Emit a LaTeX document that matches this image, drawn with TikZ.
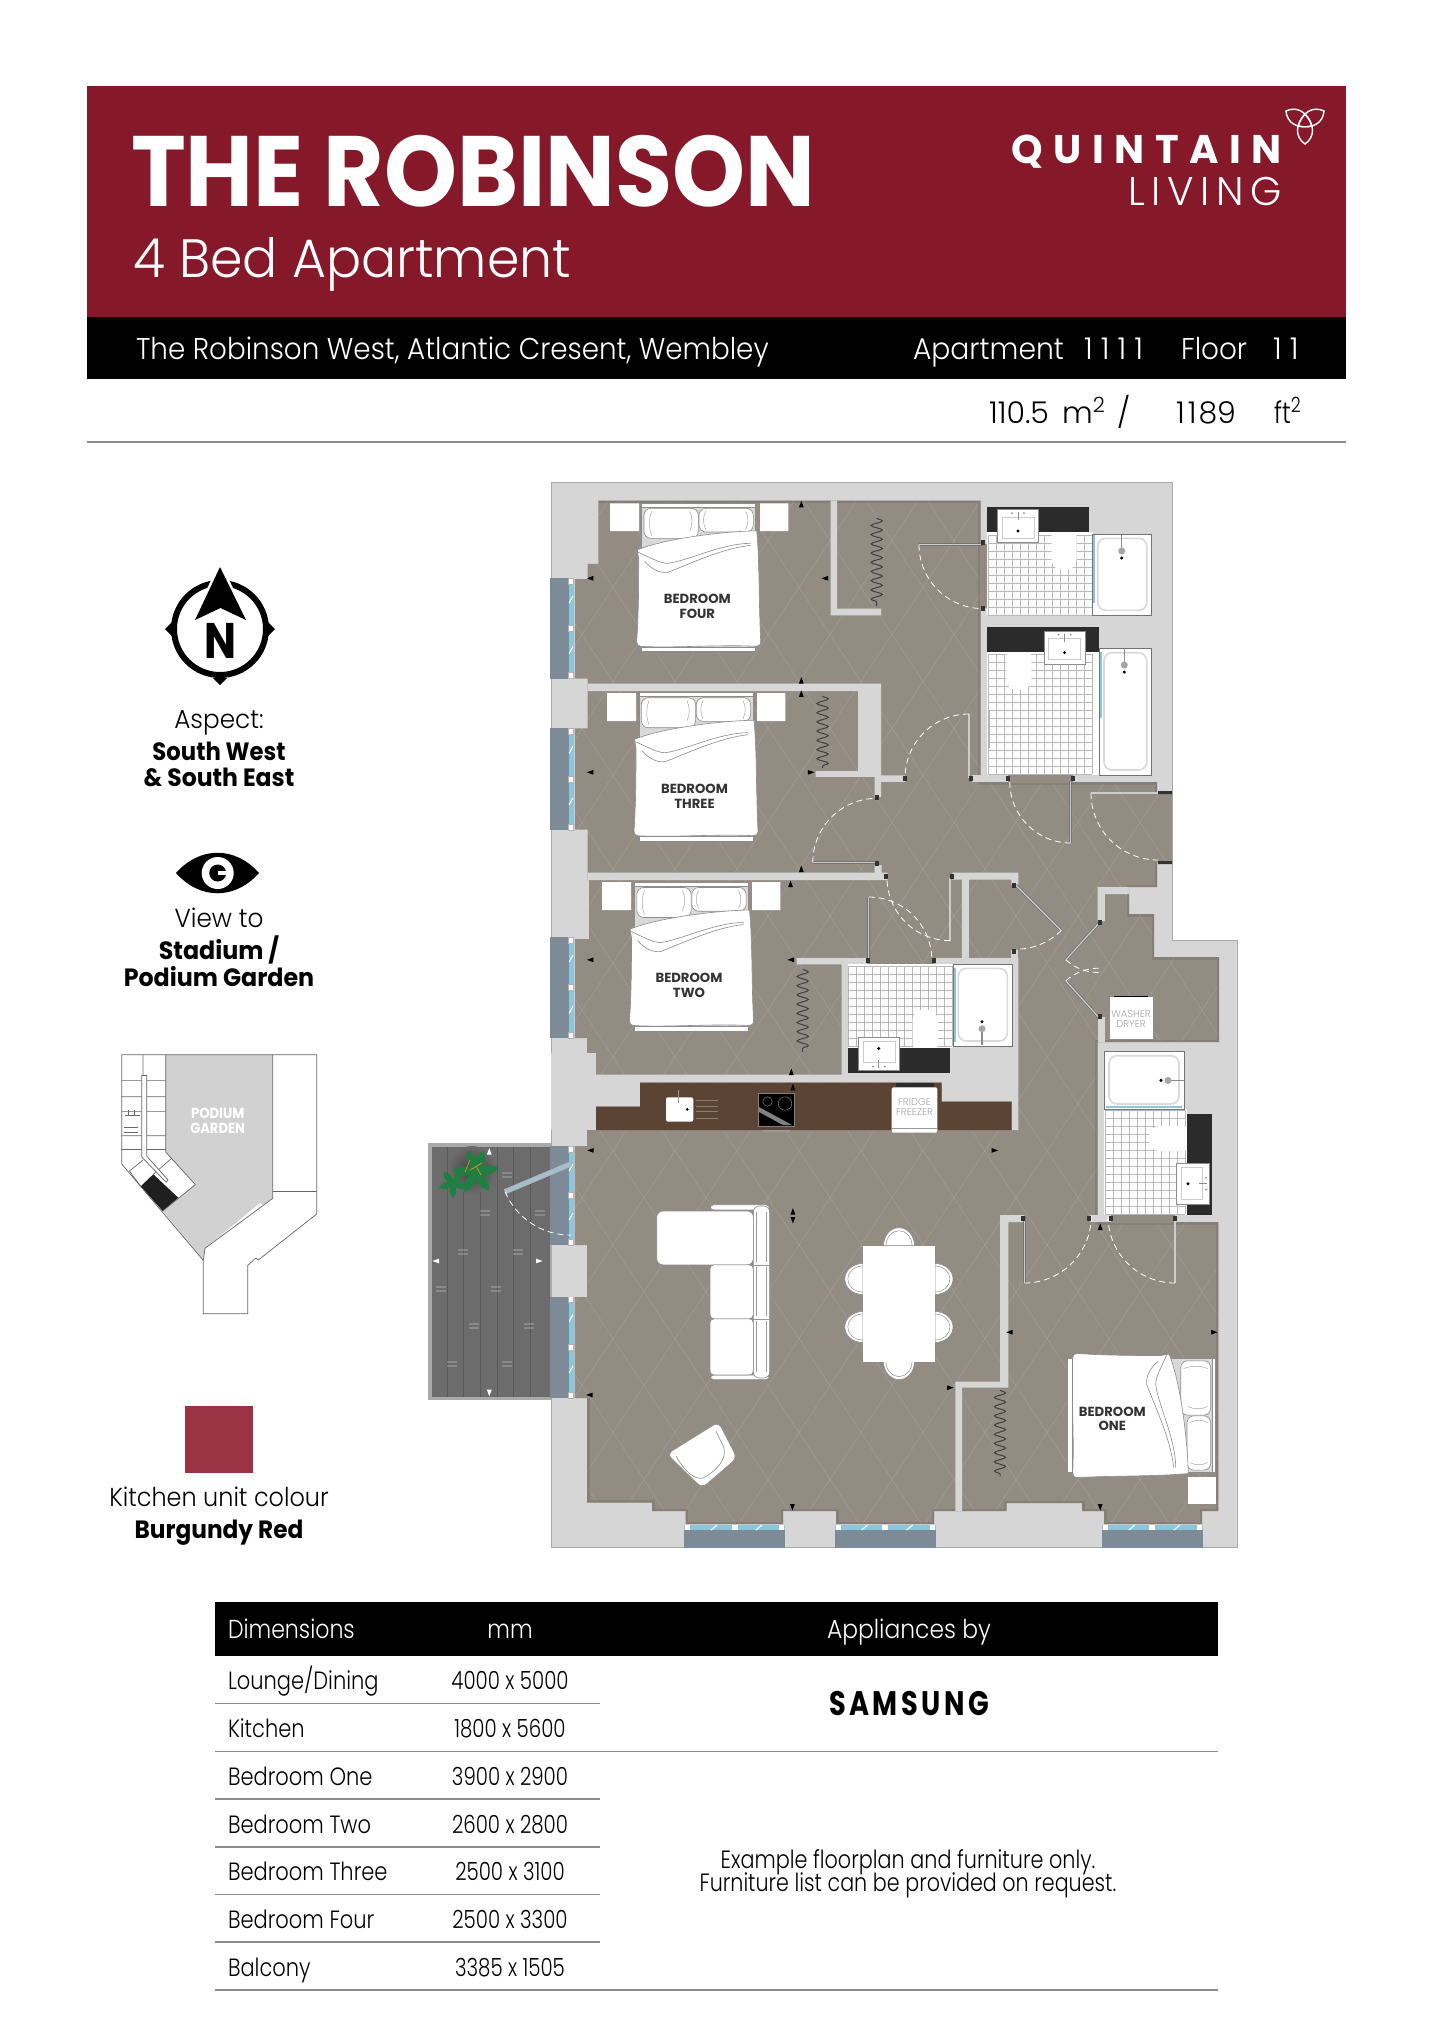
\documentclass[tikz,border=0pt]{standalone}
\usepackage{fontspec}
\setmainfont{Poppins}[UprightFont=* Light,BoldFont=* Bold]
\usetikzlibrary{decorations.pathmorphing}

\definecolor{bannerred}{HTML}{85192A}
\definecolor{swatchred}{HTML}{9C3345}
\definecolor{wallgrey}{HTML}{D6D6D7}
\definecolor{walledge}{HTML}{A9A9A9}
\definecolor{floortaupe}{HTML}{938C83}
\definecolor{floordark}{HTML}{6F6962}
\definecolor{counterblack}{HTML}{2B2B2C}
\definecolor{worktop}{HTML}{5C4434}
\definecolor{deckgrey}{HTML}{6C6C6C}
\definecolor{slate}{HTML}{7D8A97}
\definecolor{glassblue}{HTML}{8CC6DC}
\definecolor{glassdoor}{HTML}{A3BFCB}
\definecolor{plantgreen}{HTML}{1F7F42}

\tikzset{
    txt/.style={inner sep=0pt, outer sep=0pt, anchor=base},
    txtleft/.style={inner sep=0pt, outer sep=0pt, anchor=base west},
    txtright/.style={inner sep=0pt, outer sep=0pt, anchor=base east},
    wall/.style={fill=wallgrey, draw=walledge, line width=0.3pt},
    furniture/.style={fill=white, draw=black!45, line width=0.3pt},
    tile/.style={draw=black!28, line width=0.2pt},
    doorleaf/.style={draw=black!55, line width=1.4pt},
    doorcore/.style={draw=black!20, line width=0.6pt},
    doorswing/.style={draw=white, line width=0.4pt, dash pattern=on 3pt off 2pt},
    rule/.style={draw=black!45, line width=0.6pt},
    bedlabel/.style={inner sep=0pt, align=center, text=black!80, font=\bfseries\fontsize{6.6}{7.3}\selectfont},
    applabel/.style={inner sep=0pt, align=center, text=black!35, font=\fontsize{5}{5.6}\selectfont},
}

\newcommand{\squeeze}[2]{\scalebox{#1}[1]{#2}}
\newcommand{\swingdoor}[4]{%
    \draw[doorleaf] (#1) -- ++(#2:#4);
    \draw[doorcore] (#1) -- ++(#2:#4);
    \draw[doorswing] (#1) ++(#2:#4) arc (#2:#3:#4);
}
\newcommand{\jamb}[2]{\fill[black!80] (#1-2,#2-2.5) rectangle (#1+2,#2+2.5);}
\newcommand{\hanger}[3]{%
    \draw[black!75, line width=0.5pt, decorate, decoration={snake, amplitude=2.8pt, segment length=4.6pt}] (#1,#2) -- (#1,#3);
}
\newcommand{\tilefloor}[4]{%
    \foreach \i in {0,...,#3}
        \draw[tile] (#1+\i*8,#2) -- ++(0,#4*8);
    \foreach \j in {0,...,#4}
        \draw[tile] (#1,#2+\j*8) -- ++(#3*8,0);
}
\newcommand{\windowwest}[2]{%
    \fill[slate] (549.5,#1) rectangle (568.5,#2);
    \fill[glassblue] (568.5,#1) rectangle (573.5,#2);
    \fill[white, draw=black!30, line width=0.2pt] (568.5,#1) rectangle (573.5,#1+6);
    \fill[white, draw=black!30, line width=0.2pt] (568.5,#2-6) rectangle (573.5,#2);
    \fill[white, draw=black!30, line width=0.2pt] (568.5,{(#1+#2)/2-3}) rectangle (573.5,{(#1+#2)/2+3});
    \draw[white, line width=0.5pt] (569,{#1+25}) -- (573,{#1+18}) (569,{#2-25}) -- (573,{#2-32});
}
\newcommand{\windowsouth}[2]{%
    \fill[slate] (#1,1530) rectangle (#2,1548);
    \fill[glassblue] (#1,1525) rectangle (#2,1530);
    \fill[white] (#1+1,1525) rectangle (#1+6,1530);
    \fill[white] (#2-6,1525) rectangle (#2-1,1530);
    \fill[white] ({(#1+#2)/2-3},1525) rectangle ({(#1+#2)/2+3},1530);
    \draw[white, line width=0.5pt] (#1+27,1530) -- (#1+33,1525) (#1+72,1530) -- (#1+78,1525);
}
\newcommand{\bathtub}[4]{%
    \fill[white, draw=black!55, line width=0.4pt] (#1,#2) rectangle (#3,#4);
    \draw[fill=white, draw=black!15, line width=0.8pt, rounded corners=4pt] (#1+5,#2+4) rectangle (#3-5,#4-5);
}
\newcommand{\tubtap}[3]{%
    \begin{scope}[shift={(#1,#2)}, rotate=#3]
        \draw[black!45, line width=0.6pt] (0,0) -- (0,-16);
        \fill[black!35] (0,0) circle (3.5);
        \fill[black] (0,7) circle (1.7);
    \end{scope}
}
\newcommand{\basin}[3]{%
    \begin{scope}[shift={(#1,#2)}, rotate=#3]
        \draw[furniture] (-20.5,-16.5) rectangle (20.5,16.5);
        \draw[black!20, line width=0.3pt] (-16,-9) rectangle (16,12);
        \draw[black!45, line width=0.5pt] (0,-14) -- (0,-6);
        \fill[black!45] (-6,-13) circle (1) (6,-13) circle (1);
        \fill[black] (0,5) circle (1.6);
    \end{scope}
}
\newcommand{\toilet}[3]{%
    \begin{scope}[shift={(#1,#2)}, rotate=#3]
        \fill[white, rounded corners=5pt] (-12.5,-6) -- (-12.5,38) -- (12.5,38) -- (12.5,-6) -- cycle;
    \end{scope}
}
\newcommand{\dimtick}[4][black]{\fill[#1, shift={(#2,#3)}, rotate=#4] (0,-3.5) -- (2.4,3) -- (-2.4,3) -- cycle;}
\newcommand{\diningchair}[3]{%
    \begin{scope}[shift={(#1,#2)}, rotate=#3]
        \draw[furniture] (-15.5,0) arc (180:360:15.5 and 18) -- cycle;
        \draw[black!45, line width=0.25pt] (-13,0) arc (180:360:13 and 15);
    \end{scope}
}
\newcommand{\doublebed}[3]{%
    \begin{scope}[shift={(#1,#2)}, rotate=#3]
        \draw[fill=black!15, draw=black!45, line width=0.3pt] (0,0) rectangle (114,148);
        \draw[furniture] (0,0) rectangle (114,3.5);
        \draw[furniture, rounded corners=3.5pt] (2.3,5) rectangle (56.6,35);
        \draw[furniture, rounded corners=3.5pt] (57.3,5) rectangle (111.6,28.7);
        \draw[black!35, line width=0.25pt] (10,8) .. controls (7,16) and (7,24) .. (10,32) (48,8) .. controls (51,14) and (51,22) .. (48,28) (64,8) .. controls (61,14) and (61,20) .. (64,26) (104,8) .. controls (107,14) and (107,20) .. (104,26);
        \draw[furniture, line join=round] (-4.4,46.7) .. controls (20,36) and (80,28) .. (115,27.5) .. controls (118,60) and (117,100) .. (119,138) .. controls (119,142) and (117,143) .. (114,143) .. controls (80,141) and (30,145) .. (-1,143) .. controls (-4,143) and (-5,141) .. (-5,138) .. controls (-3,110) and (-3,80) .. (-3,55) -- cycle;
        \draw[black!45, line width=0.3pt] (-3.5,49) .. controls (8,54) and (18,60) .. (26,60) .. controls (45,58) and (80,40) .. (109,40);
        \draw[black!45, line width=0.3pt] (3,58) .. controls (10,66) and (18,70) .. (26,69) .. controls (45,62) and (80,45) .. (109,42);
        \draw[furniture] (0,143.7) rectangle (114,148.4);
    \end{scope}
}

\begin{document}
\begin{tikzpicture}[x=0.5pt, y=-0.5pt]
    \useasboundingbox (0,0) rectangle (1432,2025);

    \fill[bannerred] (87,86) rectangle (1346,317);
    \fill[black] (87,317) rectangle (1346,379);
    \draw[rule] (87,442) -- (1346,442);
    \node[txtleft, text=white, font=\bfseries\fontsize{50}{50}\selectfont] (title) at (131,206) {\squeeze{0.928}{THE ROBINSON}};
    \node[txtleft, text=white, font=\fontsize{27}{27}\selectfont] (subtitle) at (133,277) {\squeeze{0.965}{4 Bed Apartment}};
    \node[txtright, text=white, font=\bfseries\fontsize{20}{20}\selectfont] (quintain) at (1282,163) {Q\hspace{5.3pt}U\hspace{5.3pt}I\hspace{5.3pt}N\hspace{5.3pt}T\hspace{5.3pt}A\hspace{5.3pt}I\hspace{5.3pt}N};
    \node[txtright, text=white, font=\fontsize{20}{20}\selectfont] (living) at (1282,205) {L\,I\,V\,I\,N\,G};
    \foreach \a in {60,180,300}
        \draw[white, line width=0.7pt, shift={(1305,122)}, rotate=\a] (0,8) .. controls (10,-3) and (10,-15) .. (0,-22) .. controls (-10,-15) and (-10,-3) .. (0,8);
    \node[txtleft, text=white, font=\fontsize{15}{15}\selectfont] (address) at (136,359) {\squeeze{0.926}{The Robinson West, Atlantic Cresent, Wembley}};
    \node[txtleft, text=white, font=\fontsize{15}{15}\selectfont] (aptlabel) at (913,359) {\squeeze{0.94}{Apartment}};
    \node[txtleft, text=white, font=\fontsize{15}{15}\selectfont] (aptnumber) at (1084,359) {1\hspace{4pt}1\hspace{4pt}1\hspace{4pt}1};
    \node[txtleft, text=white, font=\fontsize{15}{15}\selectfont] (floorlabel) at (1181,359) {\squeeze{0.93}{Floor}};
    \node[txtleft, text=white, font=\fontsize{15}{15}\selectfont] (floornumber) at (1273,359) {1\hspace{4pt}1};
    \node[txtleft, font=\fontsize{15}{15}\selectfont] (areametric) at (989,423) {110.5\, m\textsuperscript{2} \hspace{1.5pt}/};
    \node[txtleft, font=\fontsize{15}{15}\selectfont] (areafeet) at (1176,423) {1\hspace{1.5pt}1\hspace{1pt}89};
    \node[txtleft, font=\fontsize{15}{15}\selectfont] (unitfeet) at (1274,423) {\squeeze{0.82}{ft\textsuperscript{2}}};

    \draw[black, line width=3pt] (220,629) circle (46);
    \fill[black] (165,629) -- (172,622) -- (172,636) -- cycle (275,629) -- (268,622) -- (268,636) -- cycle (220,685) -- (213,678) -- (227,678) -- cycle;
    \draw[white, line width=2.5pt, fill=black, line join=miter] (220,567) -- (246,620) -- (220.5,608) -- (195,620) -- cycle;
    \fill[black] (220,567) -- (246,620) -- (220.5,608) -- (195,620) -- cycle;
    \node[txt, font=\bfseries\fontsize{25}{25}\selectfont] (north) at (220.5,658) {\squeeze{0.85}{N}};
    \node[txt, font=\fontsize{13}{13}\selectfont] (aspect) at (219,728) {\squeeze{0.95}{Aspect:}};
    \node[txt, font=\bfseries\fontsize{12.5}{12.5}\selectfont] (aspectone) at (219,760) {\squeeze{0.91}{South West}};
    \node[txt, font=\bfseries\fontsize{12.5}{12.5}\selectfont] (aspecttwo) at (219,786) {\squeeze{0.94}{\&{} South East}};
    \fill[black] (176,873) .. controls (200,846) and (235,846) .. (259,873) .. controls (235,900) and (200,900) .. (176,873) -- cycle;
    \fill[white] (217.7,873) circle (16);
    \fill[black] (217.7,873) circle (8.5);
    \fill[white] (218,871) rectangle (227,875);
    \node[txt, font=\fontsize{13}{13}\selectfont] (viewto) at (219,927) {\squeeze{0.95}{View to}};
    \node[txt, font=\bfseries\fontsize{12.5}{12.5}\selectfont] (viewone) at (219,959) {\squeeze{0.95}{Stadium /}};
    \node[txt, font=\bfseries\fontsize{12.5}{12.5}\selectfont] (viewtwo) at (219,986) {\squeeze{0.95}{Podium Garden}};

    \fill[black!18] (165.7,1054.8) -- (272.7,1054.8) -- (272.7,1198.4) -- (263,1205) -- (260.5,1202.5) -- (205,1248.3) -- (203.3,1260.4) -- (162.7,1211) -- (195.3,1184.6) -- (165.7,1152) -- cycle;
    \fill[black!88] (153.3,1174.3) -- (178.3,1197.7) -- (162.7,1211) -- (140.7,1186.3) -- cycle;
    \draw[black!60, line width=0.35pt, line join=round] (121.7,1054.8) -- (316.7,1054.8) -- (316.7,1214) -- (258.3,1260) -- (255.8,1258) -- (247.7,1265.5) -- (247.7,1313.8) -- (203.3,1313.8) -- (203.3,1260.4) -- (121.7,1164) -- cycle;
    \draw[black!60, line width=0.35pt] (165.7,1054.8) -- (165.7,1152) -- (195.3,1184.6) -- (162.7,1211) (272.7,1054.8) -- (272.7,1198.4) -- (205,1248.3) -- (203.3,1260.4) (272.7,1191.5) -- (316.7,1191.5);
    \draw[black!60, line width=0.35pt] (121.7,1080.6) -- (165.7,1080.6) (121.7,1096.8) -- (165.7,1096.8) (121.7,1111.6) -- (165.7,1111.6) (121.7,1135.7) -- (165.7,1135.7) (121.7,1149.5) -- (165.7,1149.5) (143,1054.8) -- (143,1075) (129.5,1171) -- (143,1160) (153.3,1174.3) -- (172,1158) (140.7,1186.3) -- (129.5,1171);
    \draw[black!60, line width=0.35pt, fill=white] (141.7,1075.5) -- (146.7,1075.5) -- (146.7,1156) -- (168,1180) -- (166,1182) -- (141.7,1157) -- cycle;
    \draw[black!60, line width=0.3pt] (125,1115) -- (140,1115) (128,1110) -- (128,1115) (134,1110) -- (134,1115) (124,1127) -- (138,1127) (124,1132) -- (138,1132);
    \node[txt, text=white, font=\bfseries\fontsize{7.3}{7.3}\selectfont] (podiumone) at (217.7,1118) {\squeeze{0.9}{PODIUM}};
    \node[txt, text=white, font=\bfseries\fontsize{7.3}{7.3}\selectfont] (podiumtwo) at (217.7,1133) {\squeeze{0.9}{GARDEN}};

    \fill[swatchred] (185,1406) rectangle (253,1473);
    \node[txt, font=\fontsize{13}{13}\selectfont] (kitchencolour) at (219,1506) {\squeeze{0.92}{Kitchen unit colour}};
    \node[txt, font=\bfseries\fontsize{12.5}{12.5}\selectfont] (burgundy) at (219,1538) {\squeeze{0.93}{Burgundy Red}};

    % shell and floor
    \draw[wall, line join=round] (551,482) -- (1172,482) -- (1172,940) -- (1237,940) -- (1237,1547) -- (551,1547) -- cycle;
    \begin{scope}
        \clip (598.4,500.6) -- (980.7,500.6) -- (980.7,782) -- (1157,782) -- (1157,793) -- (1172,793) -- (1172,862) -- (1157,862) -- (1157,887) -- (1129,887) -- (1129,914) -- (1154,914) -- (1154,957) -- (1219,957) -- (1219,1042) -- (1097.5,1042) -- (1097.5,1222) -- (1218.4,1222) -- (1218.4,1511) -- (1202,1511) -- (1202,1524) -- (1104,1524) -- (1104,1511) -- (1082,1511) -- (1082,1503) -- (1006.5,1503) -- (1006.5,1511) -- (934,1511) -- (934,1524) -- (836,1524) -- (836,1511) -- (783,1511) -- (783,1524) -- (685.6,1524) -- (685.6,1511) -- (652,1511) -- (652,1502.5) -- (587,1502.5) -- (587,1398) -- (574.6,1398) -- (574.6,1296.6) -- (587,1296.6) -- (587,1245) -- (574.6,1245) -- (574.6,1146) -- (587,1146) -- (587,1130) -- (596,1130) -- (596,1053.6) -- (587,1053.6) -- (587,1038) -- (574.8,1038) -- (574.8,939) -- (589,939) -- (589,880) -- (587.6,880) -- (587.6,829.7) -- (574.8,829.7) -- (574.8,728.3) -- (587.6,728.3) -- (587.6,678.6) -- (574.8,678.6) -- (574.8,579) -- (587.6,579) -- (587.6,563.8) -- (598.4,563.8) -- cycle;
        \fill[floortaupe] (560,490) rectangle (1230,1530);
        \foreach \i in {0,...,30} {
            \draw[white, opacity=0.13, line width=0.3pt] (560+\i*62,480) -- (560+\i*62-700,1540);
            \draw[white, opacity=0.13, line width=0.3pt] (560-700+\i*62,480) -- (560-700+\i*62+700,1540);
        }
        \draw[floordark, opacity=0.35, line width=2.5pt] (598.4,500.6) -- (980.7,500.6) -- (980.7,782) -- (1157,782) -- (1157,793) (1157,862) -- (1157,887) -- (1129,887) -- (1129,914) -- (1154,914) -- (1154,957) -- (1219,957) -- (1219,1042) -- (1097.5,1042) -- (1097.5,1222) -- (1218.4,1222) -- (1218.4,1511) -- (1202,1511) -- (1202,1524) -- (1104,1524) -- (1104,1511) -- (1082,1511) -- (1082,1503) -- (1006.5,1503) -- (1006.5,1511) -- (934,1511) -- (934,1524) -- (836,1524) -- (836,1511) -- (783,1511) -- (783,1524) -- (685.6,1524) -- (685.6,1511) -- (652,1511) -- (652,1502.5) -- (587,1502.5) -- (587,1398);
    \end{scope}
    \fill[floortaupe] (980,544) rectangle (988,608) (1008,774) rectangle (1073,783) (1111,1214) rectangle (1175,1223);

    % inner walls
    \fill[wallgrey] (587.6,683.5) -- (881,683.5) -- (881,775.4) -- (905,775.4) -- (905,781.9) -- (881,781.9) -- (881,797.2) -- (874.5,797.2) -- (874.5,776.9) -- (815.5,776.9) -- (815.5,771.2) -- (858,771.2) -- (858,691.2) -- (587.6,691.2) -- cycle;
    \fill[wallgrey] (830.6,500.6) -- (837.2,500.6) -- (837.2,608.5) -- (881,608.5) -- (881,615.4) -- (830.6,615.4) -- cycle;
    \fill[wallgrey] (587.6,872.6) -- (874.5,872.6) -- (874.5,865) -- (881.6,865) -- (881.6,872.6) -- (887.7,872.6) -- (887.7,880.2) -- (587.6,880.2) -- cycle;
    \fill[wallgrey] (796.6,958) -- (867,958) -- (867,964.4) -- (935,964.4) -- (935,958) -- (1018.4,958) -- (1018.4,1130) -- (1011.7,1130) -- (1011.7,1101.7) -- (941.7,1101.7) -- (941.7,1082.7) -- (640,1082.7) -- (640,1106.7) -- (596,1106.7) -- (596,1074.6) -- (841.7,1074.6) -- (841.7,964.4) -- (796.6,964.4) -- cycle;
    \fill[wallgrey] (952.3,872.6) -- (1018.4,872.6) -- (1018.4,885.2) -- (1011.3,885.2) -- (1011.3,879.5) -- (968.9,879.5) -- (968.9,958) -- (961.8,958) -- (961.8,879.5) -- (952.3,879.5) -- cycle;
    \fill[wallgrey] (1011.3,950.3) rectangle (1018.4,958);
    \fill[wallgrey] (1000,1215) -- (1024.3,1215) -- (1024.3,1222) -- (1008.3,1222) -- (1008.3,1387.7) -- (962,1387.7) -- (962,1511) -- (955.4,1511) -- (955.4,1381.6) -- (1000,1381.6) -- cycle;
    \fill[wallgrey] (1089.6,1215) rectangle (1098,1222);
    \fill[wallgrey] (1097.7,887) -- (1129,887) -- (1129,894) -- (1104.8,894) -- (1104.8,921) -- (1097.7,921) -- cycle;
    \fill[wallgrey] (1097.7,1017) rectangle (1104.8,1042);
    \fill[wallgrey] (971.7,775) rectangle (1008.3,782);
    \fill[wallgrey] (551,1053) rectangle (596,1130);
    \fill[wallgrey] (587,1075) rectangle (596,1107);

    % balcony
    \fill[walledge] (427.7,1143.3) rectangle (551,1400);
    \fill[deckgrey] (432.3,1147.3) rectangle (549.5,1397.3);
    \foreach \x in {447,463,480,497,513,530}
        \draw[black!65, line width=0.15pt] (\x,1147.3) -- (\x,1397.3);
    \foreach \x/\y in {507/1175,485/1213,540/1213,463/1252,518/1252,441/1289,496/1289,474/1326,529/1326,452/1364,507/1364}
        \draw[white, opacity=0.2, line width=0.7pt] (\x,\y-2) ++(-5,0) -- ++(10,0) (\x,\y+2) ++(-5,0) -- ++(10,0);
    \shade[inner color=black!75, outer color=deckgrey, shading=radial] (472,1170) circle (24);
    \foreach \a in {20,85,150,215,280,340}
        \fill[plantgreen, shift={(476,1172)}, rotate=\a] (0,0) .. controls (7,-7) and (5,-17) .. (0,-23) .. controls (-5,-17) and (-7,-7) .. (0,0);
    \foreach \a in {40,110,180,250,320}
        \fill[plantgreen, shift={(453,1183)}, rotate=\a] (0,0) .. controls (5,-5) and (4,-11) .. (0,-15) .. controls (-4,-11) and (-5,-5) .. (0,0);
    \draw[orange!60!brown, line width=0.4pt] (470,1170) -- (482,1163) (476,1166) -- (481,1175) (465,1172) -- (470,1160);

    % windows
    \windowwest{578}{678.6}
    \windowwest{728.3}{829.7}
    \windowwest{937}{1038.3}
    \windowwest{1146}{1245}
    \windowwest{1296.6}{1398}
    \windowsouth{684}{785}
    \windowsouth{834.6}{936}
    \windowsouth{1101.8}{1203}
    \fill[wallgrey] (551.7,1247) rectangle (587,1296.6);

    % bathroom A
    \fill[white] (987.3,531.7) rectangle (1092.7,615.3);
    \tilefloor{988}{535}{13}{10}
    \toilet{1064}{531.7}{0}
    \fill[counterblack] (987.3,507.3) rectangle (1089,531.7);
    \basin{1018}{526}{0}
    \bathtub{1092.7}{534.3}{1151.7}{615.3}
    \tubtap{1121.7}{551}{0}
    \fill[glassblue] (1093,535) rectangle (1095,603);

    % bathroom B
    \fill[white] (987.3,651.7) rectangle (1099,775);
    \tilefloor{988}{654}{13}{15}
    \toilet{1018.8}{651.7}{0}
    \fill[counterblack] (987.3,627.3) rectangle (1099,651.7);
    \basin{1064.6}{647.5}{0}
    \bathtub{1099}{648.7}{1151.7}{775}
    \tubtap{1124.3}{665}{0}
    \fill[glassblue] (1099.5,652) rectangle (1102,718);
    \fill[black!30] (988,710) rectangle (990,748);

    % bathroom west of hall
    \fill[white] (847.6,964.4) rectangle (953.3,1047.8);
    \tilefloor{848}{966}{13}{10}
    \toilet{925}{1047.8}{180}
    \fill[counterblack] (848.2,1047.8) rectangle (950,1072.7);
    \basin{878.8}{1053.5}{180}
    \bathtub{953.3}{964.4}{1012.3}{1046}
    \tubtap{982}{1028.7}{180}
    \fill[glassblue] (953.5,968) rectangle (955.5,1042);

    % bathroom east of hall
    \fill[white] (1104,1109) rectangle (1187,1215);
    \tilefloor{1105}{1110}{10}{13}
    \toilet{1187}{1138.5}{-90}
    \fill[counterblack] (1187,1113.7) rectangle (1212.4,1215);
    \basin{1193}{1183.7}{-90}
    \bathtub{1104}{1051.7}{1184}{1109}
    \tubtap{1168}{1080.4}{-90}
    \fill[glassblue] (1106,1106) rectangle (1182,1108);

    % kitchen
    \fill[worktop] (596,1106.7) -- (640,1106.7) -- (640,1082.7) -- (941.7,1082.7) -- (941.7,1101.7) -- (1011.7,1101.7) -- (1011.7,1130) -- (596,1130) -- cycle;
    \fill[white, rounded corners=1pt] (666,1097.3) rectangle (693.3,1121.7);
    \draw[black!40, line width=0.6pt] (678.3,1090) -- (678.3,1103);
    \fill[black] (687.3,1109.3) circle (1.5);
    \foreach \y in {1100.7,1106,1111.7,1118.3}
        \draw[worktop!70!white, line width=0.25pt] (696,\y) -- (718.3,\y);
    \fill[black, draw=black!50, line width=0.3pt] (758.3,1093.3) rectangle (794.3,1126);
    \draw[black!55, line width=0.3pt] (767.5,1101.5) circle (4.7) (785,1103.5) circle (6.7);
    \fill[black!50] (759,1107) -- (792,1125) -- (783,1125) -- (759,1112) -- cycle;
    \fill[black!40] (763,1130) rectangle (790,1132);
    \fill[counterblack] (895.7,1083.3) rectangle (934,1087.3);
    \fill[white, rounded corners=1pt] (891.7,1087.3) rectangle (937.3,1132.7);
    \draw[black!40, line width=0.4pt] (892,1128.3) -- (937,1128.3);
    \node[applabel] (fridge) at (914.5,1107) {FRIDGE\\[-0.3pt]FREEZER};

    % utility
    \draw[furniture] (1109,996) rectangle (1153,1039.5);
    \fill[black] (1114,995.5) rectangle (1148,997);
    \node[applabel] (washer) at (1131,1019) {WASHER\\[-0.3pt]DRYER};

    % beds
    \fill[white] (610,503.3) rectangle (639,531) (760,503.3) rectangle (788.3,531);
    \doublebed{641.7}{503.3}{0}
    \node[bedlabel] (labelfour) at (697.3,606.5) {BEDROOM\\FOUR};
    \fill[white] (607,693) rectangle (636,721) (757,693) rectangle (785.3,721);
    \doublebed{639}{692.7}{0}
    \node[bedlabel] (labelthree) at (694.5,796) {BEDROOM\\THREE};
    \fill[white] (602,882) rectangle (631,910) (752,882) rectangle (780.3,910);
    \doublebed{634.5}{882.5}{0}
    \node[bedlabel] (labeltwo) at (689,985.5) {BEDROOM\\TWO};
    \fill[white] (1188.3,1476.7) rectangle (1215.7,1504);
    \doublebed{1215.7}{1358.5}{-90}
    \node[bedlabel] (labelone) at (1112.3,1419) {BEDROOM\\ONE};

    % wardrobe rails
    \hanger{876.7}{518}{606}
    \hanger{822.6}{696}{768}
    \hanger{802.7}{969}{1052}
    \hanger{1000}{1390}{1476}

    % sofa, table, armchair
    \draw[furniture, rounded corners=2pt] (710,1204.7) rectangle (769.6,1210);
    \draw[furniture, rounded corners=2pt] (710,1375) rectangle (769.6,1379.6);
    \draw[furniture, rounded corners=3pt] (753.3,1206) rectangle (769.6,1378);
    \draw[furniture, rounded corners=3pt] (656.8,1211) rectangle (753.3,1264.8);
    \draw[furniture, rounded corners=2pt] (710,1264.8) rectangle (753.3,1318.8);
    \draw[furniture, rounded corners=2pt] (710,1318.8) rectangle (753.3,1375);
    \draw[black!40, line width=0.25pt] (756,1212) -- (756,1262) (766,1212) -- (766,1262) (756,1267) -- (756,1316) (766,1267) -- (766,1316) (756,1321) -- (756,1372) (766,1321) -- (766,1372) (753.3,1264.8) -- (769.6,1264.8) (753.3,1318.8) -- (769.6,1318.8);
    \diningchair{899}{1245.7}{0}
    \diningchair{899}{1361.6}{180}
    \diningchair{862.8}{1279}{90}
    \diningchair{862.8}{1327}{90}
    \diningchair{935}{1279}{-90}
    \diningchair{935}{1327}{-90}
    \fill[white] (862.8,1245.7) rectangle (935,1361.6);
    \draw[furniture, rounded corners=3pt, line join=round] (667,1454) -- (718.5,1422) -- (737,1458) -- (702,1488) -- cycle;
    \draw[black!45, line width=0.3pt] (676,1456) .. controls (685,1472) and (695,1480) .. (703,1478) .. controls (715,1472) and (727,1460) .. (724,1448) (724,1448) -- (716,1431);

    % doors
    \swingdoor{983,544.6}{180}{90}{64}
    \swingdoor{969,778}{270}{180}{64}
    \swingdoor{1070.8,782}{90}{180}{61}
    \swingdoor{1158,793}{180}{90}{67}
    \swingdoor{876.8,862.3}{180}{270}{64}
    \swingdoor{868.8,960}{270}{360}{63}
    \swingdoor{950,877.6}{90}{180}{63}
    \swingdoor{1016,885.2}{45}{90}{64}
    \swingdoor{1098.6,923.5}{132}{90}{49}
    \swingdoor{1098.6,1017.2}{228}{270}{49}
    \swingdoor{1024.3,1216}{90}{0}{67}
    \swingdoor{1175,1216}{90}{180}{67}
    \draw[draw=black!30, line width=2.6pt] (570.7,1164) -- (505,1191.7);
    \draw[draw=glassdoor, line width=2pt] (570.7,1164) -- (505,1191.7);
    \draw[doorswing] (505,1191.7) arc (157:90:71.3);
    \jamb{983.3}{542.3}
    \jamb{983.3}{608.3}
    \jamb{971.2}{778}
    \jamb{1007.5}{778}
    \jamb{1072.6}{778}
    \fill[black!80] (1158,791) rectangle (1172,794) (1158,861) rectangle (1172,864);
    \jamb{905}{778}
    \jamb{877}{797}
    \jamb{877}{863}
    \jamb{886.3}{876.4}
    \jamb{952.3}{876.4}
    \jamb{868.3}{960}
    \jamb{933.5}{960}
    \jamb{1014}{885}
    \jamb{1014}{951}
    \jamb{1100}{922}
    \jamb{1100}{1016.5}
    \jamb{1023}{1218}
    \jamb{1089.4}{1218}
    \jamb{1111}{1218}
    \jamb{1175}{1218}

    % small markers
    \foreach \x/\y/\a in {801.3/504.4/0,801.3/680.5/0,801.3/693.9/0,590.4/578.3/90,825/578.3/90,590.4/772.3/90,810.8/772.3/-90,801.3/869/0,790.5/884/0,590.4/959.8/90,791/959.8/90,791.3/1072/0,792.9/1087.3/0,590.7/1150.4/90,994.5/1150.4/-90,792.9/1211.6/0,792.9/1220/180,589.6/1394.9/90,950/1387.7/-90,1009.7/1332.2/90,1214/1332.2/-90,792.4/1507/180,1100.2/1507/180,1100.2/1227/0} {
        \dimtick{\x}{\y}{\a}
    }
    \foreach \x/\y/\a in {489.3/1151.7/0,489.3/1392.7/180,436/1261/90,539/1261/-90} {
        \dimtick[white]{\x}{\y}{\a}
    }

    \fill[black] (215,1602) rectangle (1218,1656);
    \node[txtleft, text=white, font=\fontsize{13}{13}\selectfont] (dimhead) at (228,1638) {\squeeze{0.85}{Dimensions}};
    \node[txt, text=white, font=\fontsize{13}{13}\selectfont] (mmhead) at (510,1638) {\squeeze{0.85}{mm}};
    \node[txt, text=white, font=\fontsize{13}{13}\selectfont] (apphead) at (909,1638) {\squeeze{0.9}{Appliances by}};
    \foreach \i/\room/\size/\ybase in {1/Lounge\slash Dining/4000 x 5000/1689.3,2/Kitchen/1800 x 5600/1737.3,3/Bedroom One/3900 x 2900/1785.3,4/Bedroom Two/2600 x 2800/1833.3,5/Bedroom Three/2500 x 3100/1880.3,6/Bedroom Four/2500 x 3300/1928.3,7/Balcony/3385 x 1505/1976.3} {
        \node[txtleft, font=\fontsize{12.5}{12.5}\selectfont] (room\i) at (228,\ybase) {\squeeze{0.84}{\room}};
        \node[txt, font=\fontsize{12.5}{12.5}\selectfont] (size\i) at (510,\ybase) {\squeeze{0.79}{\size}};
    }
    \foreach \y in {1703.7,1799,1847,1894.7,1942}
        \draw[rule] (215,\y) -- (600,\y);
    \draw[rule] (215,1751.3) -- (1218,1751.3);
    \draw[rule] (215,1990) -- (1218,1990);
    \node[txt, font=\bfseries\fontsize{17}{17}\selectfont] (samsung) at (909,1715.5) {\squeeze{0.8}{S\hspace{2.2pt}A\hspace{2.2pt}M\hspace{2.2pt}S\hspace{2.2pt}U\hspace{2.2pt}N\hspace{2.2pt}G}};
    \node[txt, font=\fontsize{12.5}{12.5}\selectfont] (noteone) at (908,1868) {\squeeze{0.83}{Example floorplan and furniture only.}};
    \node[txt, font=\fontsize{12.5}{12.5}\selectfont] (notetwo) at (908,1891.3) {\squeeze{0.826}{Furniture list can be provided on request.}};
\end{tikzpicture}
\end{document}
